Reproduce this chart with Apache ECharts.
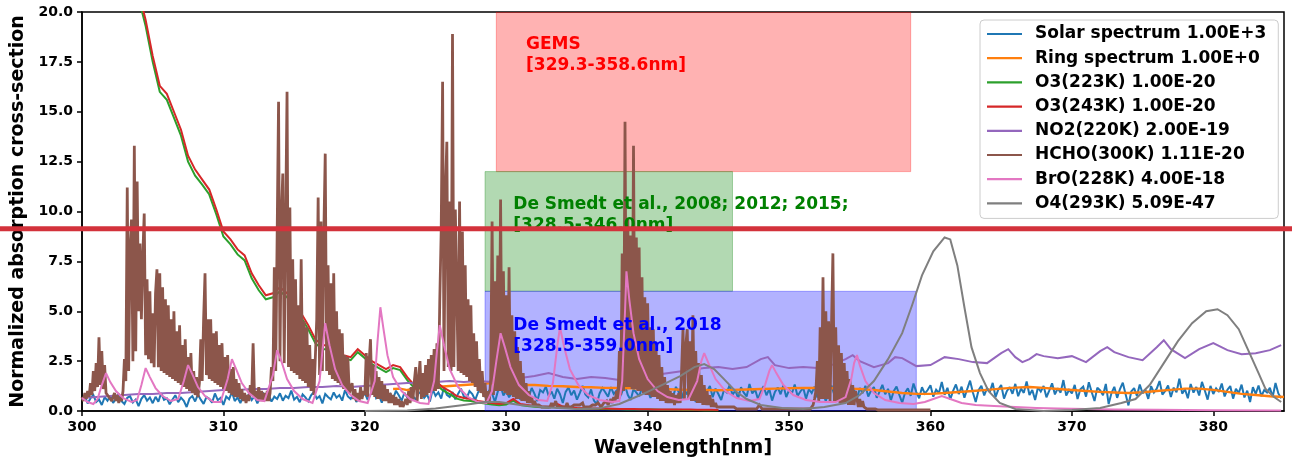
<!DOCTYPE html>
<html>
<head>
<meta charset="utf-8">
<script src="https://cdn.jsdelivr.net/npm/echarts@6/dist/echarts.min.js"></script>
<style>
  html, body { margin: 0; padding: 0; background: #ffffff; }
  #chart { width: 1292px; height: 464px; }
</style>
</head>
<body>
<div id="chart"></div>
<script>
// ---- axis ticks ----
const xTicks = [300, 310, 320, 330, 340, 350, 360, 370, 380];
const yTicks = [0, 2.5, 5, 7.5, 10, 12.5, 15, 17.5, 20];

// ---- legend names ----
const seriesNames = [
  'Solar spectrum 1.00E+3',
  'Ring spectrum 1.00E+0',
  'O3(223K) 1.00E-20',
  'O3(243K) 1.00E-20',
  'NO2(220K) 2.00E-19',
  'HCHO(300K) 1.11E-20',
  'BrO(228K) 4.00E-18',
  'O4(293K) 5.09E-47'
];

// ---- solar spectrum, 0.2 nm grid from 300 nm ----
const solarStart = 300, solarStep = 0.2;
const solar = [
  0.55,0.72,0.38,0.64,0.81,0.45,0.58,0.30,0.69,0.52,
  0.77,0.41,0.62,0.86,0.49,0.35,0.66,0.74,0.43,0.58,
  0.25,0.61,0.80,0.52,0.68,0.39,0.71,0.47,0.90,0.56,
  0.63,0.34,0.58,0.79,0.44,0.67,0.51,0.20,0.62,0.75,
  0.48,0.83,0.57,0.36,0.70,0.61,0.42,0.88,0.54,0.66,
  0.31,0.72,0.59,0.95,0.50,0.68,0.40,0.77,0.63,0.85,
  0.55,0.74,0.38,0.69,0.92,0.58,0.81,0.47,0.72,0.60,
  0.89,0.52,0.76,0.65,1.02,0.57,0.71,0.44,0.83,0.68,
  0.49,0.79,0.96,0.62,0.74,0.38,0.85,0.70,0.58,0.93,
  0.67,0.80,0.52,1.05,0.73,0.61,0.88,0.45,0.77,0.69,
  0.90,0.56,0.82,1.10,0.64,0.78,0.42,0.95,0.71,0.86,
  0.60,1.02,0.79,0.52,0.91,0.68,1.15,0.74,0.57,0.88,
  0.98,0.66,0.83,0.47,1.08,0.76,0.93,0.62,1.20,0.81,
  0.70,0.95,0.58,0.87,1.12,0.74,0.64,1.00,0.85,0.55,
  0.92,1.18,0.80,0.66,1.05,0.88,0.45,0.97,1.25,0.78,
  1.02,0.69,0.90,1.30,0.82,0.58,1.10,0.95,0.72,1.15,
  0.86,0.50,1.05,0.93,1.22,0.75,0.98,0.62,1.12,0.84,
  0.40,0.96,1.18,0.79,1.03,0.57,0.90,1.26,0.83,0.68,
  1.08,0.52,0.35,0.88,1.15,0.94,0.71,1.20,0.86,1.02,
  0.63,0.97,1.28,0.80,0.55,1.10,0.92,0.74,1.16,0.89,
  1.05,0.66,0.93,1.32,0.78,1.00,0.59,1.14,0.87,0.72,
  1.21,0.95,0.61,1.08,0.83,1.27,0.90,0.46,1.02,1.17,
  0.76,0.98,1.25,0.69,1.12,0.85,0.55,1.06,0.93,1.30,
  0.81,1.03,0.64,1.19,0.92,0.73,1.35,0.88,1.07,0.60,
  0.97,1.24,0.79,1.10,0.52,0.95,1.18,0.84,1.29,0.70,
  1.05,0.88,1.33,0.75,0.98,1.16,0.62,1.09,0.90,1.22,
  0.68,1.13,0.93,0.48,1.04,1.27,0.82,1.00,0.71,1.19,
  0.95,1.36,0.77,1.08,0.59,1.15,0.89,1.26,0.73,1.02,
  1.20,0.66,0.97,1.31,0.84,1.11,0.53,0.99,1.23,0.80,
  0.42,0.91,1.14,0.76,1.38,0.95,0.64,1.19,0.87,1.05,
  1.29,0.72,1.07,0.90,1.45,0.81,1.16,0.58,1.01,1.33,
  0.85,1.22,0.67,1.10,1.52,0.93,0.45,1.04,1.27,0.78,
  1.15,0.96,1.41,0.70,1.08,1.30,0.62,0.99,1.20,0.86,
  1.36,0.74,1.12,0.91,1.48,0.80,1.05,0.55,1.18,0.97,
  1.25,0.69,1.02,1.39,0.83,1.14,0.92,1.55,0.77,1.06,
  0.88,1.31,0.60,1.09,1.22,0.72,1.44,0.95,0.50,1.17,
  1.03,0.79,1.36,0.35,0.90,1.21,0.66,1.10,1.42,0.84,
  0.28,0.98,1.15,0.75,1.33,0.89,1.06,0.61,1.24,0.93,
  1.12,1.50,0.82,1.01,1.28,0.70,1.17,0.94,1.62,0.87,
  1.09,0.64,1.35,0.92,1.20,0.78,1.46,1.03,0.57,1.26,
  0.85,1.14,0.96,1.38,0.73,1.07,1.25,0.62,1.11,0.90,
  1.32,0.68,1.02,0.45,1.19,0.86,1.28,0.74,1.05,0.93,
  1.16,0.71,1.40,0.88,0.64
];

// ---- Ring spectrum [nm, value] ----
const ring = [
  [322,1.10],[322.5,1.12],[323,1.05],[323.5,1.10],[324,1.15],[325,1.20],[326,1.25],[327,1.30],
  [328,1.35],[329,1.40],[330,1.36],[331,1.30],[332,1.30],[333,1.26],[334,1.24],[335,1.20],
  [336,1.19],[337,1.16],[338,1.15],[339,1.14],[340,1.10],[341,1.10],[342,1.08],[343,1.05],
  [344,1.05],[345,1.04],[346,1.06],[347,1.08],[348,1.10],[349,1.12],[350,1.14],[351,1.16],
  [352,1.15],[353,1.14],[354,1.12],[355,1.10],[356,1.05],[357,0.98],[358,0.90],[359,0.86],
  [360,0.86],[361,0.90],[362,0.95],[363,1.00],[364,1.06],[365,1.12],[366,1.17],[367,1.20],
  [368,1.16],[369,1.10],[370,1.05],[371,1.00],[372,0.96],[373,0.93],[374,0.90],[375,0.94],
  [376,1.00],[377,1.06],[378,1.12],[379,1.12],[380,1.06],[381,0.96],[382,0.86],[383,0.80],
  [384,0.74],[385,0.70]
];

// ---- O3 cross sections, 0.5 nm grid from 300 nm ----
const o3Start = 300, o3Step = 0.5;
const o3Cold = [
  31.7,30.2,28.7,27.3,25.9,24.6,23.3,21.9,20.7,19.3,
  17.5,16.0,15.6,14.7,13.8,12.5,11.8,11.35,10.85,9.85,
  8.75,8.35,7.85,7.55,6.65,6.05,5.6,5.7,6.0,5.7,
  5.2,4.7,4.1,3.4,3.1,3.1,2.8,2.65,2.55,2.95,
  2.65,2.35,2.15,1.95,2.15,2.05,1.55,1.15,1.15,1.45,
  1.35,1.05,0.85,0.62,0.53,0.5,0.42,0.38,0.33,0.29,
  0.33,0.52,0.3,0.25,0.21,0.19,0.17,0.33,0.19,0.15,
  0.13,0.12,0.11,0.1,0.1,0.09,0.09,0.08,0.08,0.08,
  0.07,0.07,0.06,0.06,0.06,0.05,0.05,0.05,0.04,0.04,0.04
];
const o3Warm = [
  32.0,30.5,29.0,27.6,26.2,24.9,23.6,22.2,21.0,19.6,
  17.8,16.3,15.9,15.0,14.1,12.8,12.1,11.6,11.1,10.1,
  9.0,8.6,8.1,7.8,6.9,6.3,5.8,5.9,6.2,5.9,
  5.4,4.9,4.3,3.6,3.3,3.3,3.0,2.8,2.7,3.1,
  2.8,2.5,2.3,2.1,2.3,2.2,1.7,1.3,1.3,1.6,
  1.5,1.2,1.0,0.75,0.65,0.6,0.5,0.45,0.4,0.35,
  0.4,0.6,0.35,0.3,0.25,0.22,0.2,0.4,0.22,0.18,
  0.15,0.14,0.13,0.12,0.12,0.11,0.1,0.1,0.1,0.09,
  0.09,0.08,0.08,0.08,0.07,0.07,0.07,0.06,0.06,0.06,0.05
];

// ---- NO2 [nm, value] ----
const no2 = [
  [300,0.65],[301,0.70],[302,0.75],[303,0.80],[304,0.85],[305,0.85],[306,0.90],[307,0.90],
  [308,0.95],[309,1.00],[310,1.05],[311,1.05],[312,1.10],[313,1.10],[314,1.15],[315,1.15],
  [316,1.20],[317,1.20],[318,1.25],[319,1.20],[320,1.25],[321,1.30],[322,1.35],[323,1.40],
  [324,1.40],[325,1.45],[326,1.50],[327,1.45],[328,1.50],[329,1.45],[330,1.55],[331,1.65],
  [332,1.75],[333,1.90],[334,1.70],[335,1.60],[336,1.70],[337,1.65],[338,1.55],[339,1.60],
  [340,1.75],[341,1.85],[342,1.95],[343,2.05],[344,2.15],[345,2.20],[346,2.10],[347,2.20],
  [348,2.60],[348.5,2.70],[349,2.30],[350,2.15],[351,2.20],[352,2.15],[353,2.30],[354,2.60],
  [354.5,2.80],[355,2.50],[356,2.20],[357,2.40],[357.5,2.70],[358,2.65],[359,2.25],[360,2.30],
  [361,2.70],[362,2.60],[363,2.45],[364,2.40],[365,2.90],[365.5,3.10],[366,2.70],[366.5,2.45],
  [367,2.60],[367.5,2.85],[368,2.75],[369,2.65],[370,2.75],[371,2.45],[372,3.00],[372.5,3.20],
  [373,2.95],[374,2.70],[375,2.55],[376,3.20],[376.5,3.55],[377,3.10],[378,2.65],[379,3.10],
  [380,3.40],[381,3.05],[382,2.85],[383,2.90],[384,3.05],[384.8,3.30]
];

// ---- HCHO, 0.1 nm grid from 300 nm (one row per nm) ----
const hchoStart = 300, hchoStep = 0.1;
const hcho = [
  0.7,0.5,0.9,0.6,1.0,0.7,1.4,0.8,2.0,1.0,
  2.4,1.2,3.7,1.3,3.0,1.1,2.3,0.9,1.0,0.7,
  0.8,0.5,0.6,0.9,0.5,0.8,0.4,0.7,0.5,1.0,
  2.6,1.5,11.2,2.0,8.2,9.6,2.5,13.3,3.0,11.5,
  5.0,8.4,4.6,7.8,9.9,2.8,6.6,2.6,6.0,2.4,
  4.9,2.2,5.9,7.1,2.2,6.9,2.0,6.2,1.9,5.6,
  1.8,5.3,1.7,4.6,1.6,5.0,1.5,4.0,1.4,4.3,
  1.3,3.3,1.2,3.6,1.1,2.7,1.0,2.9,0.9,2.0,
  0.8,1.7,0.7,1.4,3.6,1.5,4.6,6.9,1.8,4.6,
  1.6,4.6,1.5,3.9,1.4,4.0,1.3,3.3,1.2,3.4,
  1.1,2.7,1.0,2.8,0.9,2.1,0.8,2.2,0.7,1.6,
  0.7,1.4,0.6,1.1,0.5,0.9,0.4,0.8,0.5,1.3,
  0.8,3.4,0.7,1.0,0.6,1.2,0.5,1.0,0.5,0.9,
  0.5,1.0,0.5,0.9,2.2,1.5,7.2,2.0,8.8,15.5,
  2.5,9.8,11.9,2.4,9.4,16.0,2.2,10.2,2.0,7.6,
  1.9,6.6,1.8,5.3,1.6,7.6,1.5,4.5,1.4,4.2,
  1.2,3.3,1.0,2.6,0.8,0.7,4.6,10.7,1.8,9.5,
  2.0,8.8,12.9,2.0,7.3,1.8,6.4,1.6,6.9,1.5,
  5.0,1.4,4.1,1.3,3.9,1.1,2.8,1.0,2.7,0.9,
  0.8,1.4,0.6,1.1,0.5,0.9,0.5,1.2,0.6,1.0,
  0.8,2.9,0.7,2.4,3.6,0.8,2.3,0.7,2.0,0.6,
  1.7,0.6,1.5,0.5,1.3,0.5,1.1,0.4,0.9,0.4,
  0.8,0.3,0.7,0.3,0.6,0.2,0.5,0.2,0.4,0.6,
  0.3,1.0,0.4,1.2,0.5,1.5,2.2,0.5,1.6,2.5,
  0.6,1.9,0.7,2.3,0.8,2.6,0.9,2.8,1.0,3.1,
  1.0,3.4,1.1,5.5,9.0,16.5,2.0,11.0,13.5,2.2,
  10.5,2.0,18.9,2.2,10.1,10.0,2.0,10.5,1.9,9.0,
  1.8,7.3,1.7,5.6,1.5,5.3,1.4,3.9,1.2,3.5,
  1.0,2.6,0.9,2.0,0.7,1.4,0.5,1.0,0.4,1.6,
  9.5,0.8,6.5,1.0,7.8,1.0,10.6,1.0,7.0,0.9,
  5.8,0.8,7.2,0.8,4.8,0.7,4.0,0.6,3.2,0.6,
  2.5,0.5,1.9,0.5,1.4,0.4,1.0,0.4,0.7,0.3,
  0.5,0.3,0.4,0.3,0.3,0.2,0.3,0.2,0.3,0.2,
  0.3,0.2,0.4,0.2,0.3,0.5,0.2,0.3,0.2,0.3,
  0.2,0.3,0.2,0.4,0.2,0.3,0.2,0.2,0.3,0.2,
  0.3,0.2,0.3,0.2,0.4,0.2,0.3,0.2,0.3,0.2,
  0.2,0.3,0.2,0.3,0.2,0.4,0.3,0.2,0.3,0.4,
  0.3,0.5,0.3,0.4,0.6,0.4,0.7,0.5,1.0,0.6,
  3.0,0.8,7.9,1.0,14.5,1.2,9.6,1.2,8.8,1.1,
  13.3,1.1,8.7,1.0,8.2,1.0,6.7,0.9,5.7,0.8,
  5.4,0.8,4.2,0.7,4.1,0.7,3.0,0.6,2.8,0.5,
  2.2,0.5,1.7,0.4,1.3,0.4,1.0,0.4,0.9,0.3,
  0.8,0.4,0.9,0.4,2.0,4.1,0.6,3.3,4.1,0.6,
  3.5,0.5,4.8,0.5,3.0,0.4,2.4,0.4,1.8,0.3,
  1.3,0.3,1.0,0.3,0.8,0.2,0.6,0.2,0.4,0.2,
  0.3,0.2,0.3,0.2,0.2,0.2,0.1,0.2,0.1,0.2,
  0.1,0.2,0.1,0.1,0.2,0.1,0.1,0.1,0.2,0.1,
  0.1,0.1,0.2,0.1,0.1,0.1,0.2,0.1,0.2,0.3,
  0.2,0.1,0.1,0.1,0.1,0.1,0.1,0.1,0.1,0.1,
  0.1,0.1,0.1,0.1,0.1,0.1,0.1,0.1,0.1,0.1,
  0.1,0.1,0.1,0.1,0.1,0.1,0.1,0.1,0.1,0.1,
  0.1,0.1,0.1,0.1,0.1,0.1,0.2,0.3,0.6,1.0,
  2.5,0.5,4.2,0.6,6.7,0.6,5.0,0.6,4.5,0.5,
  4.2,7.9,0.5,4.2,0.5,3.3,0.4,2.9,0.4,2.4,
  0.4,2.0,0.3,1.6,0.3,1.3,0.3,1.0,1.1,0.2,
  0.6,0.2,0.5,0.2,0.3,0.1,0.2,0.1,0.1,0.1,
  0.1,0.1,0.05,0.05,0.05,0.05,0.05,0.05,0.05,0.05,
  0.05,0.05,0.05,0.05,0.05,0.05,0.05,0.05,0.05,0.05,
  0.05,0.05,0.05,0.05,0.05,0.05,0.05,0.05,0.05,0.05,
  0.05,0.05,0.05,0.05,0.05,0.05,0.05,0.05,0.05,0.05,
  0.05
];

// ---- BrO [nm, value] ----
const bro = [
  [300.0,0.65],[300.4,0.45],[300.8,0.35],[301.1,0.6],[301.4,1.3],[301.7,1.9],[302.0,1.45],[302.4,1.0],
  [302.9,0.65],[303.5,0.45],[303.9,0.55],[304.2,1.3],[304.5,2.15],[304.8,1.7],[305.2,1.15],[305.7,0.75],
  [306.3,0.5],[306.8,0.6],[307.2,1.5],[307.5,2.3],[307.8,1.85],[308.2,1.2],[308.7,0.75],[309.3,0.45],
  [309.8,0.45],[310.3,1.6],[310.6,2.6],[310.9,2.1],[311.3,1.4],[311.8,0.9],[312.4,0.55],[312.9,0.5],
  [313.5,1.8],[313.8,3.05],[314.1,2.5],[314.5,1.6],[315.0,1.0],[315.6,0.6],[316.3,0.4],[316.8,1.5],
  [317.0,3.0],[317.2,4.4],[317.5,3.3],[317.9,2.1],[318.4,1.3],[319.0,0.8],[319.6,0.5],[320.2,0.4],
  [320.7,1.5],[320.9,3.5],[321.1,5.2],[321.3,4.2],[321.6,2.8],[322.0,1.7],[322.6,1.0],[323.2,0.6],
  [323.9,0.4],[324.5,0.35],[324.9,1.5],[325.1,3.0],[325.3,4.3],[325.6,3.3],[326.0,2.1],[326.6,1.2],
  [327.3,0.7],[328.0,0.45],[328.6,0.4],[329.0,1.0],[329.3,2.5],[329.6,3.9],[329.9,3.2],[330.3,2.2],
  [330.9,1.3],[331.6,0.8],[332.3,0.55],[332.9,0.5],[333.3,1.4],[333.6,3.2],[333.8,4.2],[334.1,3.2],
  [334.5,2.1],[335.1,1.3],[335.8,0.8],[336.6,0.55],[337.5,0.45],[338.0,0.5],[338.2,1.5],[338.4,5.0],
  [338.5,7.0],[338.7,5.6],[339.0,3.9],[339.4,2.6],[340.0,1.6],[340.7,1.0],[341.4,0.7],[342.2,0.55],
  [342.9,0.6],[343.5,1.5],[343.8,2.5],[344.0,2.9],[344.3,2.4],[344.8,1.6],[345.5,1.0],[346.3,0.65],
  [347.2,0.5],[347.9,0.6],[348.3,1.3],[348.6,2.0],[348.8,2.3],[349.1,1.9],[349.6,1.3],[350.3,0.8],
  [351.2,0.55],[352.2,0.45],[353.3,0.45],[354.0,0.7],[354.4,1.6],[354.6,2.4],[354.8,2.8],[355.0,2.3],
  [355.4,1.5],[356.0,0.9],[356.8,0.55],[357.8,0.4],[358.8,0.35],[359.6,0.45],[360.2,0.6],[360.8,0.75],
  [361.4,0.6],[362.2,0.4],[363.2,0.3],[364.5,0.25],[366.0,0.2],[367.5,0.15],[369.0,0.12],[371.0,0.1],
  [373.0,0.08],[376.0,0.06],[380.0,0.04],[384.8,0.03]
];

// ---- O4 [nm, value] ----
const o4 = [
  [320,0.0],[323,0.03],[325,0.12],[327,0.3],[328.5,0.45],[329.5,0.45],[331,0.3],[333,0.18],
  [335,0.1],[336.5,0.12],[338,0.35],[339.5,0.8],[341,1.3],[342.3,1.75],[343.3,2.2],[344.0,2.35],
  [344.7,2.1],[345.4,1.6],[346.2,1.0],[347,0.6],[348,0.3],[349.5,0.15],[351,0.1],[352.5,0.2],
  [354,0.4],[355,0.8],[356,1.5],[357,2.6],[358,3.9],[358.7,5.3],[359.4,6.8],[360.2,8.0],
  [361.0,8.7],[361.4,8.6],[361.9,7.3],[362.4,5.2],[362.9,3.2],[363.5,1.9],[364.1,1.0],[364.9,0.4],
  [366,0.1],[368,0.0],[370,0.05],[372,0.15],[373.5,0.4],[374.5,0.6],[375.5,1.3],[376.5,2.4],
  [377.5,3.5],[378.5,4.4],[379.5,5.0],[380.3,5.1],[381,4.8],[381.8,4.1],[382.5,3.0],[383.2,1.9],
  [383.7,1.1],[384.3,0.7],[384.8,0.45]
];

// ---- retrieval windows: [from nm, to nm, lower, upper] ----
const windows = [
  [329.3, 358.6, 12, 20],
  [328.5, 346.0, 6, 12],
  [328.5, 359.0, 0, 6]
];
const windowNotes = [
  ['GEMS', '[329.3-358.6nm]'],
  ['De Smedt et al., 2008; 2012; 2015;', '[328.5-346.0nm]'],
  ['De Smedt et al., 2018', '[328.5-359.0nm]']
];
const notePos = [[331.4, 18.9], [330.5, 10.85], [330.5, 4.83]];
const guideLevel = 9.14;

const FONT = 'DejaVu Sans';
const windowFill = ['rgba(255,0,0,0.3)', 'rgba(0,128,0,0.3)', 'rgba(0,0,255,0.3)'];
const noteColor = ['#ff0000', '#008000', '#0000ff'];
const lineColors = ['#1f77b4', '#ff7f0e', '#2ca02c', '#d62728', '#9467bd', '#8c564b', '#e377c2', '#7f7f7f'];
const lineWidths = [2, 2.4, 2, 2, 2, 2.8, 2, 2];

function onGrid(start, step, vals) {
  return vals.map((v, i) => [Math.round((start + i * step) * 100) / 100, v]);
}

const lineData = [
  onGrid(solarStart, solarStep, solar),
  ring,
  onGrid(o3Start, o3Step, o3Cold),
  onGrid(o3Start, o3Step, o3Warm),
  no2,
  onGrid(hchoStart, hchoStep, hcho),
  bro,
  o4
];

const lineSeries = seriesNames.map((name, i) => ({
  name: name,
  type: 'line',
  data: lineData[i],
  showSymbol: false,
  symbol: 'none',
  clip: true,
  z: 3,
  lineStyle: { color: lineColors[i], width: lineWidths[i], join: 'miter', miterLimit: 2 },
  itemStyle: { color: lineColors[i] },
  emphasis: { disabled: true }
}));

const chart = echarts.init(document.getElementById('chart'), null, { renderer: 'canvas' });

chart.setOption({
  animation: false,
  backgroundColor: '#ffffff',
  grid: {
    left: 82, right: 8, top: 12, bottom: 53,
    show: true, borderColor: '#000', borderWidth: 1.5, backgroundColor: 'transparent'
  },
  legend: {
    data: seriesNames,
    orient: 'vertical',
    left: 980, top: 20,
    icon: 'rect',
    itemWidth: 35, itemHeight: 2.2,
    itemGap: 4.2,
    padding: [4, 12, 5, 7],
    backgroundColor: 'rgba(255,255,255,0.8)',
    borderColor: '#cccccc', borderWidth: 1, borderRadius: 4,
    selectedMode: false,
    textStyle: {
      fontFamily: FONT, fontWeight: 'bold', fontSize: 17, color: '#000',
      lineHeight: 20, padding: [0, 0, 0, 8]
    }
  },
  xAxis: {
    type: 'value', min: 300, max: 385, interval: 10,
    name: 'Wavelength[nm]', nameLocation: 'middle', nameGap: 28,
    nameTextStyle: { fontFamily: FONT, fontWeight: 'bold', fontSize: 19, color: '#000' },
    axisLine: { onZero: false, lineStyle: { color: '#000', width: 1.5 } },
    axisTick: { customValues: xTicks, length: 5, lineStyle: { color: '#000', width: 1.5 } },
    axisLabel: {
      customValues: xTicks, margin: 9,
      fontFamily: FONT, fontWeight: 'bold', fontSize: 14, color: '#000'
    },
    splitLine: { show: false }
  },
  yAxis: {
    type: 'value', min: 0, max: 20, interval: 2.5,
    name: 'Normalized absorption cross-section', nameLocation: 'middle', nameGap: 53,
    nameTextStyle: { fontFamily: FONT, fontWeight: 'bold', fontSize: 19, color: '#000' },
    axisLine: { onZero: false, lineStyle: { color: '#000', width: 1.5 } },
    axisTick: { customValues: yTicks, length: 5, lineStyle: { color: '#000', width: 1.5 } },
    axisLabel: {
      customValues: yTicks, margin: 9,
      formatter: v => Number(v).toFixed(1),
      fontFamily: FONT, fontWeight: 'bold', fontSize: 14, color: '#000'
    },
    splitLine: { show: false }
  },
  series: [
    {
      // shaded retrieval windows
      type: 'custom',
      z: 1,
      silent: true,
      clip: true,
      data: windows,
      encode: { x: [0, 1], y: [2, 3] },
      renderItem: function (params, api) {
        const p0 = api.coord([api.value(0), api.value(3)]);
        const p1 = api.coord([api.value(1), api.value(2)]);
        const c = windowFill[params.dataIndex];
        return {
          type: 'rect',
          shape: { x: p0[0], y: p0[1], width: p1[0] - p0[0], height: p1[1] - p0[1] },
          style: { fill: c, stroke: c, lineWidth: 1 }
        };
      }
    },
    ...lineSeries
  ]
});

// window notes and the horizontal guide rule, placed through the axis scales
const notes = notePos.map((p, i) => {
  const px = chart.convertToPixel({ gridIndex: 0 }, p);
  return {
    type: 'text',
    z: 60,
    silent: true,
    x: px[0], y: px[1],
    style: {
      text: windowNotes[i].join('\n'),
      fill: noteColor[i],
      font: 'bold 17px "DejaVu Sans"',
      lineHeight: 21,
      align: 'left',
      verticalAlign: 'top'
    }
  };
});
const gy = chart.convertToPixel({ yAxisIndex: 0 }, guideLevel);
notes.push({
  type: 'rect',
  z: 100,
  silent: true,
  shape: { x: 0, y: gy - 2.5, width: 1292, height: 5 },
  style: { fill: '#d3323b' }
});
chart.setOption({ graphic: notes });
</script>
</body>
</html>
